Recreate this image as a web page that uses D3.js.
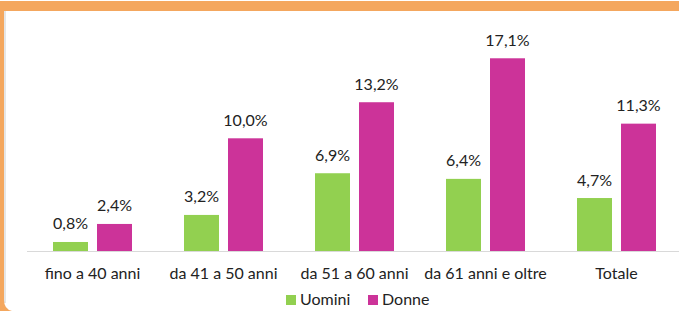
<!DOCTYPE html>
<html>
<head>
<meta charset="utf-8">
<script src="https://cdn.jsdelivr.net/npm/d3@7"></script>
<style>
  body { margin: 0; background: #fff; }
  svg { display: block; font-family: Lato, "Open Sans", sans-serif; }
</style>
</head>
<body>
<svg id="chart" width="679" height="311"></svg>
<script>
'use strict'

var categories = ["fino a 40 anni", "da 41 a 50 anni", "da 51 a 60 anni", "da 61 anni e oltre", "Totale"]
var uomini = [0.8, 3.2, 6.9, 6.4, 4.7]
var donne = [2.4, 10.0, 13.2, 17.1, 11.3]
var seriesNames = ["Uomini", "Donne"]
var colors = ["#92d050", "#cc3399"]

var svg = d3.select("#chart")
var W = 679, H = 311
var base = 251
var fs = 16

// frame: orange band on top and left, rounded bottom-left
svg.append("rect").attr("x", 0).attr("y", 0).attr("width", W).attr("height", H).attr("fill", "#fff")
svg.append("rect").attr("x", 4).attr("y", 11).attr("width", 2).attr("height", 292).attr("fill", "#e6e6e6")
svg.append("path")
    .attr("d", "M0,1 H679 V11 H4 V300 Q4,309 12,311 H0 Z")
    .attr("fill", "#f4a75e")

var x0 = d3.scaleBand().domain(categories).range([27, 682]).padding(0)
var y = d3.scaleLinear().domain([0, 1]).range([base, base - 11.27])

var bars = [
  { key: 0, values: uomini, dx: -39.5 },
  { key: 1, values: donne, dx: 4.5 }
]

var g = svg.append("g")

bars.forEach(function(s) {
  var data = categories.map(function(c, i) { return { c: c, v: s.values[i] } })
  g.selectAll(".bar" + s.key)
      .data(data)
    .enter().append("rect")
      .attr("x", d => x0(d.c) + x0.bandwidth() / 2 + s.dx)
      .attr("y", d => y(d.v))
      .attr("width", 35)
      .attr("height", d => base - y(d.v))
      .attr("fill", colors[s.key])
  g.selectAll(".lab" + s.key)
      .data(data)
    .enter().append("text")
      .attr("x", d => x0(d.c) + x0.bandwidth() / 2 + s.dx + 17.5)
      .attr("y", d => y(d.v) - 12.5)
      .attr("text-anchor", "middle")
      .attr("font-size", fs)
      .attr("fill", "#222")
      .text(d => d.v.toFixed(1).replace(".", ",") + "%")
})

// axis
var axis = d3.axisBottom(x0).tickSize(0).tickPadding(17)
var ag = svg.append("g").attr("transform", "translate(0," + base + ")").call(axis)
ag.select(".domain").attr("stroke", "#d9d9d9").attr("d", "M27,0.5H679")
ag.selectAll("text").attr("font-size", fs).attr("font-family", "Lato, 'Open Sans', sans-serif").attr("fill", "#222")

// legend
var leg = svg.append("g")
var lx = [286, 368]
seriesNames.forEach(function(n, i) {
  leg.append("rect").attr("x", lx[i]).attr("y", 295).attr("width", 10).attr("height", 10).attr("fill", colors[i])
  leg.append("text").attr("x", lx[i] + 14).attr("y", 305).attr("font-size", fs).attr("fill", "#222").text(n)
})
</script>
</body>
</html>
